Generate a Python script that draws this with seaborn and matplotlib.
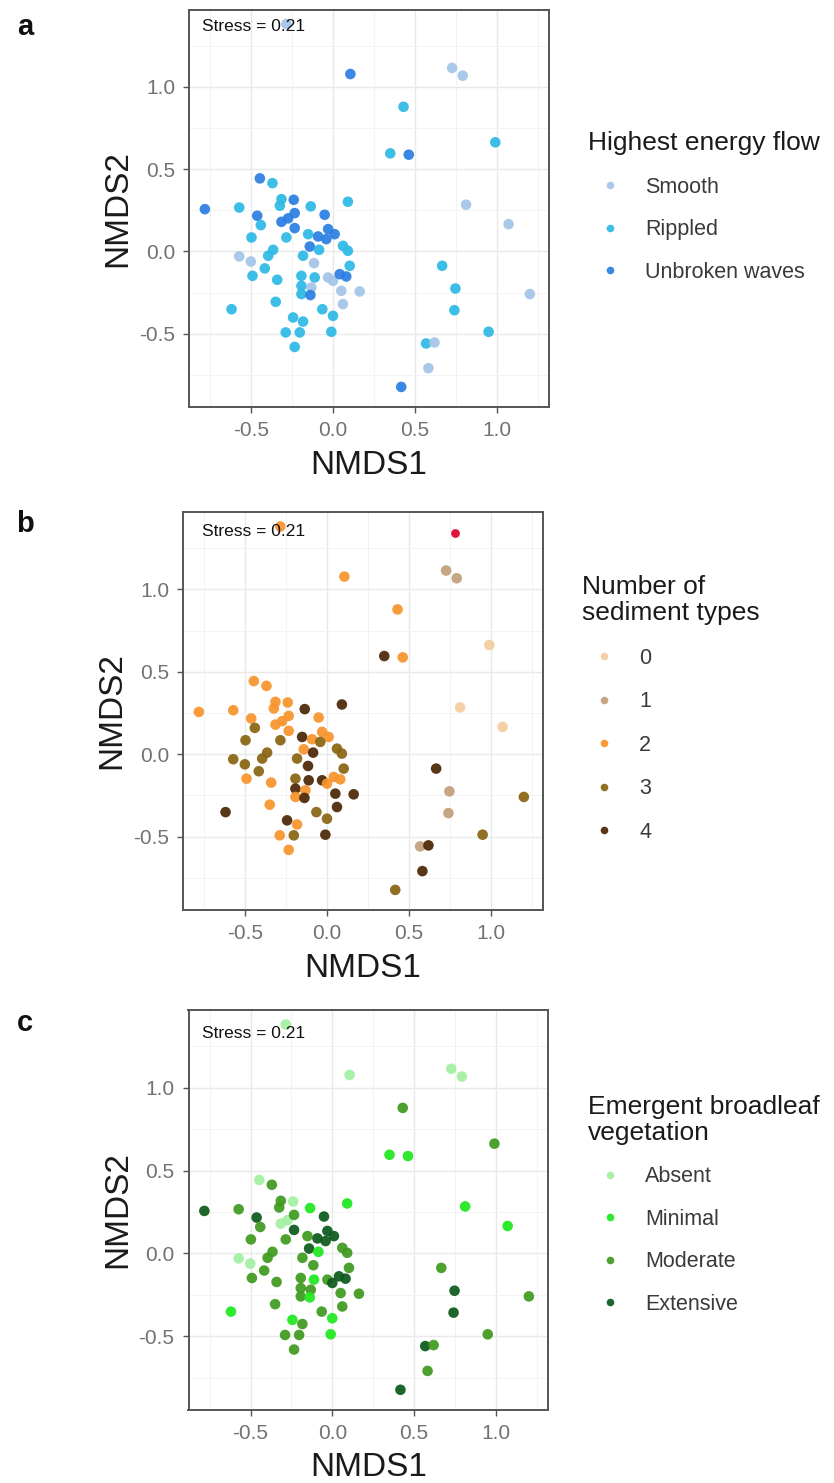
import matplotlib
matplotlib.use("Agg")
import matplotlib.pyplot as plt
import pandas as pd
import seaborn as sns
from matplotlib.ticker import MultipleLocator

# ---------------- data ----------------
nmds1 = [0.106, 0.728, 0.793, 0.431, 0.992, 0.350, 0.463, -0.447, -0.370, -0.783,
         -0.573, 0.091, 0.813, 1.073, -0.315, -0.325, -0.240, -0.136, -0.463, -0.441,
         -0.051, -0.315, -0.274, -0.234, -0.234, -0.498, -0.285, -0.152, -0.091, -0.030,
         0.010, -0.041, 0.061, 0.091, -0.366, -0.396, -0.573, -0.502, -0.142, -0.085,
         -0.183, -0.116, -0.417, 0.102, -0.492, -0.341, -0.193, -0.112, -0.030, 0.000,
         0.041, 0.081, -0.193, -0.132, 0.051, 0.163, -0.193, -0.138, -0.350, 0.061,
         -0.620, -0.065, 0.000, -0.244, -0.183, -0.289, -0.203, -0.010, -0.234, 0.667,
         0.748, 0.742, 1.203, 0.951, 0.569, 0.620, 0.583, 0.417, -0.285, 0.780]
nmds2 = [1.078, 1.115, 1.068, 0.879, 0.663, 0.596, 0.588, 0.444, 0.415, 0.257,
         0.267, 0.302, 0.284, 0.166, 0.318, 0.278, 0.314, 0.274, 0.217, 0.160,
         0.223, 0.180, 0.201, 0.233, 0.142, 0.085, 0.085, 0.105, 0.091, 0.136,
         0.105, 0.075, 0.034, 0.004, 0.010, -0.026, -0.030, -0.061, 0.030, 0.010,
         -0.026, -0.071, -0.103, -0.087, -0.148, -0.172, -0.148, -0.158, -0.158, -0.178,
         -0.138, -0.152, -0.209, -0.219, -0.239, -0.243, -0.259, -0.265, -0.306, -0.320,
         -0.351, -0.351, -0.391, -0.401, -0.426, -0.492, -0.492, -0.488, -0.580, -0.087,
         -0.225, -0.357, -0.259, -0.488, -0.559, -0.553, -0.709, -0.823, 1.382, 1.340]

flow_codes = ["U", "S", "S", "R", "R", "R", "U", "U", "R", "U",
              "R", "R", "S", "S", "R", "R", "U", "R", "U", "R",
              "U", "U", "U", "U", "U", "R", "R", "R", "U", "U",
              "U", "U", "R", "R", "R", "R", "S", "S", "U", "R",
              "R", "S", "R", "R", "R", "R", "R", "R", "S", "S",
              "U", "U", "R", "S", "S", "S", "R", "U", "R", "S",
              "R", "R", "R", "R", "R", "R", "R", "R", "R", "R",
              "R", "R", "S", "R", "R", "S", "S", "U", "S", None]
sediment_codes = ["2", "1", "1", "2", "0", "4", "2", "2", "2", "2",
                  "2", "4", "0", "0", "2", "2", "2", "4", "2", "3",
                  "2", "2", "2", "2", "2", "3", "3", "4", "2", "2",
                  "2", "3", "3", "3", "3", "3", "3", "3", "2", "4",
                  "3", "4", "3", "3", "2", "2", "3", "4", "4", "2",
                  "2", "2", "4", "2", "4", "4", "2", "4", "2", "4",
                  "4", "3", "3", "4", "2", "2", "3", "4", "2", "4",
                  "1", "1", "3", "3", "1", "4", "4", "3", "2", None]
veg_codes = ["A", "A", "A", "Mo", "Mo", "Mi", "Mi", "A", "Mo", "E",
             "Mo", "Mi", "Mi", "Mi", "Mo", "Mo", "A", "Mi", "E", "Mo",
             "E", "A", "A", "Mo", "E", "Mo", "Mo", "Mo", "E", "E",
             "E", "E", "Mo", "Mo", "Mo", "Mo", "A", "A", "E", "Mi",
             "Mo", "Mo", "Mo", "Mo", "Mo", "Mo", "Mo", "Mi", "Mo", "E",
             "E", "E", "Mo", "Mo", "Mo", "Mo", "Mo", "Mi", "Mo", "Mo",
             "Mi", "Mo", "Mi", "Mi", "Mo", "Mo", "Mo", "Mi", "Mo", "Mo",
             "E", "E", "Mo", "Mo", "E", "Mo", "Mo", "E", "A", None]

flow_names = {"S": "Smooth", "R": "Rippled", "U": "Unbroken waves"}
veg_names = {"A": "Absent", "Mi": "Minimal", "Mo": "Moderate", "E": "Extensive"}

flow_levels = ["Smooth", "Rippled", "Unbroken waves"]
sediment_levels = ["0", "1", "2", "3", "4"]
veg_levels = ["Absent", "Minimal", "Moderate", "Extensive"]

flow_colors = ["#a4c5e8", "#2db9e6", "#2b7fe2"]
sediment_colors = ["#f3cd9f", "#c29f7b", "#f7942c", "#8a6512", "#4b2806"]
sediment_na_color = "#e0153a"
veg_colors = ["#a3efa3", "#1ee81e", "#3f9a1f", "#0d5a1c"]

stress_label = "Stress = 0.21"

df = pd.DataFrame({
    "NMDS1": nmds1,
    "NMDS2": nmds2,
    "flow": [flow_names[c] if c else None for c in flow_codes],
    "sediment": sediment_codes,
    "veg": [veg_names[c] if c else None for c in veg_codes],
})

# ---------------- style ----------------
sns.set_theme(style="white")
plt.rcParams["font.family"] = ["Liberation Sans", "DejaVu Sans"]
plt.rcParams["axes.unicode_minus"] = False

W, H = 834, 1483
fig = plt.figure(figsize=(W / 100, H / 100), dpi=100)


def fx(px):
    return px / W


def fy(py):
    return 1 - py / H


XLIM = (-0.88, 1.32)
YLIM = (-0.945, 1.47)


def make_panel(box, hue_col, levels, colors, title, letter, letter_pos,
               stress_xy, leg_anchor, leg_spacing, title_ls=1.0, na_color=None):
    left, top, right, bottom = box
    ax = fig.add_axes([fx(left), fy(bottom), (right - left) / W, (bottom - top) / H])
    sub = df[df[hue_col].notna()]
    sns.scatterplot(data=sub, x="NMDS1", y="NMDS2", hue=hue_col, hue_order=levels,
                    palette=colors, s=58, linewidth=0, alpha=0.93, ax=ax, zorder=3)
    if na_color is not None:
        na = df[df[hue_col].isna()]
        sns.scatterplot(data=na, x="NMDS1", y="NMDS2", color=na_color, s=40,
                        linewidth=0, ax=ax, zorder=3, legend=False)
    ax.set_xlim(*XLIM)
    ax.set_ylim(*YLIM)
    ax.xaxis.set_major_locator(MultipleLocator(0.5))
    ax.yaxis.set_major_locator(MultipleLocator(0.5))
    ax.xaxis.set_minor_locator(MultipleLocator(0.25))
    ax.yaxis.set_minor_locator(MultipleLocator(0.25))
    ax.grid(which="major", color="#e9e9e9", lw=1.0, zorder=0)
    ax.grid(which="minor", color="#f3f3f3", lw=0.7, zorder=0)
    ax.set_axisbelow(True)
    ax.tick_params(which="major", labelsize=15, labelcolor="#727272", color="#555555",
                   length=4, width=1.0, pad=6, bottom=True, left=True)
    ax.tick_params(which="minor", length=0)
    for sp in ax.spines.values():
        sp.set_color("#555555")
        sp.set_linewidth(1.4)
    ax.set_xlabel("NMDS1", fontsize=24, color="#1a1a1a")
    ax.set_ylabel("NMDS2", fontsize=24, color="#1a1a1a")
    h = bottom - top
    w = right - left
    ax.xaxis.set_label_coords(0.5, -58 / h)
    ax.xaxis.label.set_verticalalignment("center")
    ax.yaxis.set_label_coords(-71 / w, 0.5)
    ax.yaxis.label.set_verticalalignment("center")

    ax.text(stress_xy[0], stress_xy[1], stress_label, transform=ax.transAxes,
            fontsize=12.5, color="#111111", ha="left", va="center", zorder=5)

    handles, labels = ax.get_legend_handles_labels()
    if ax.get_legend() is not None:
        ax.get_legend().remove()
    leg = fig.legend(handles, labels, title=title, loc="upper left",
                     bbox_to_anchor=(fx(leg_anchor[0]), fy(leg_anchor[1])),
                     frameon=False, fontsize=15.5, title_fontsize=19,
                     alignment="left", labelspacing=leg_spacing,
                     handlelength=2.0, handletextpad=0.65, borderpad=0,
                     borderaxespad=0, markerscale=0.72)
    for t in leg.get_texts():
        t.set_color("#3a3a3a")
    leg.get_title().set_color("#1a1a1a")
    leg.get_title().set_linespacing(title_ls)

    fig.text(fx(letter_pos[0]), fy(letter_pos[1]), letter, fontsize=21,
             fontweight="bold", ha="center", va="center", color="#111111")
    return ax


make_panel((189, 9.5, 549, 407), "flow", flow_levels, flow_colors,
           "Highest energy flow", "a", (25, 27), (0.035, 0.958),
           (588, 131), 1.0)
make_panel((183, 512, 543, 910), "sediment", sediment_levels, sediment_colors,
           "Number of\nsediment types", "b", (25, 524), (0.052, 0.950),
           (582, 575), 1.05, title_ls=1.1, na_color=sediment_na_color)
make_panel((188.5, 1010, 548, 1410), "veg", veg_levels, veg_colors,
           "Emergent broadleaf\nvegetation", "c", (25, 1023), (0.037, 0.942),
           (588, 1095), 1.0, title_ls=1.1)

fig.savefig("out.png", dpi=100)
